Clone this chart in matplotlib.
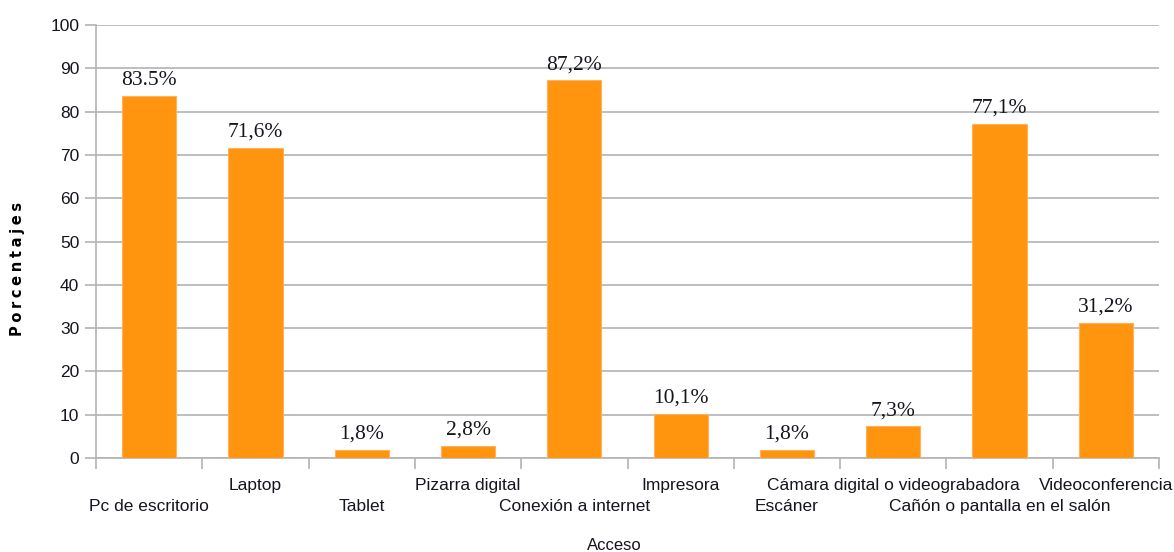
import matplotlib
matplotlib.use("Agg")
import matplotlib.pyplot as plt
import numpy as np

categories = ["Pc de escritorio", "Laptop", "Tablet", "Pizarra digital",
              "Conexión a internet", "Impresora", "Escáner",
              "Cámara digital o videograbadora", "Cañón o pantalla en el salón",
              "Videoconferencia"]
values = [83.5, 71.6, 1.8, 2.8, 87.2, 10.1, 1.8, 7.3, 77.1, 31.2]
value_labels = ["83.5%", "71,6%", "1,8%", "2,8%", "87,2%", "10,1%", "1,8%",
                "7,3%", "77,1%", "31,2%"]
yticks = [0, 10, 20, 30, 40, 50, 60, 70, 80, 90, 100]

grid_c = "#b3b3b3"
bar_c = "#ff950e"
txt_c = "#15151f"

fig = plt.figure(figsize=(11.74, 5.52), dpi=100)
ax = fig.add_axes([96/1174, 1-458/552, (1159-96)/1174, (458-25)/552])

x = np.arange(len(categories))
ax.bar(x, values, width=0.51, color=bar_c, edgecolor="#ffb060", linewidth=0.8, zorder=3)

for xi, v, lab in zip(x, values, value_labels):
    ax.annotate(lab, (xi, v), xytext=(0, 4.5), textcoords="offset points",
                ha="center", va="bottom", fontsize=15.5,
                family="Liberation Serif", color=txt_c, zorder=4)

ax.set_xlim(-0.5, len(categories) - 0.5)
ax.set_ylim(0, 100)
ax.set_yticks(yticks)
ax.set_yticklabels([str(t) for t in yticks], family="Liberation Sans",
                   fontsize=12.5, color=txt_c)
ax.yaxis.grid(True, color=grid_c, linewidth=1.2, zorder=0)
ax.set_axisbelow(True)

ax.set_xticks(x)
ax.set_xticklabels(categories, family="Liberation Sans", fontsize=12.5, color=txt_c)
ax.tick_params(axis="x", which="major", length=0)
ax.set_xticks(np.arange(-0.5, len(categories)), minor=True)
ax.tick_params(axis="x", which="minor", length=8, color=grid_c, width=1.2)
ax.tick_params(axis="y", length=8, color=grid_c, width=1.2, pad=4)
for i, t in enumerate(ax.xaxis.get_major_ticks()):
    t.set_pad(29.5 if i % 2 == 0 else 14.5)

for s in ["top", "right"]:
    ax.spines[s].set_visible(False)
for s in ["left", "bottom"]:
    ax.spines[s].set_color(grid_c)
    ax.spines[s].set_linewidth(1.2)

fig.text(18/1174, 1-269/552, "\u2005".join("Porcentajes"),
         rotation=90, ha="center", va="center", fontsize=10.5, fontweight="bold",
         family="DejaVu Sans", color="black")
fig.text(614/1174, 1-545/552, "Acceso", ha="center", va="center",
         fontsize=12, family="Liberation Sans", color=txt_c)

fig.savefig("out.png", dpi=100)
